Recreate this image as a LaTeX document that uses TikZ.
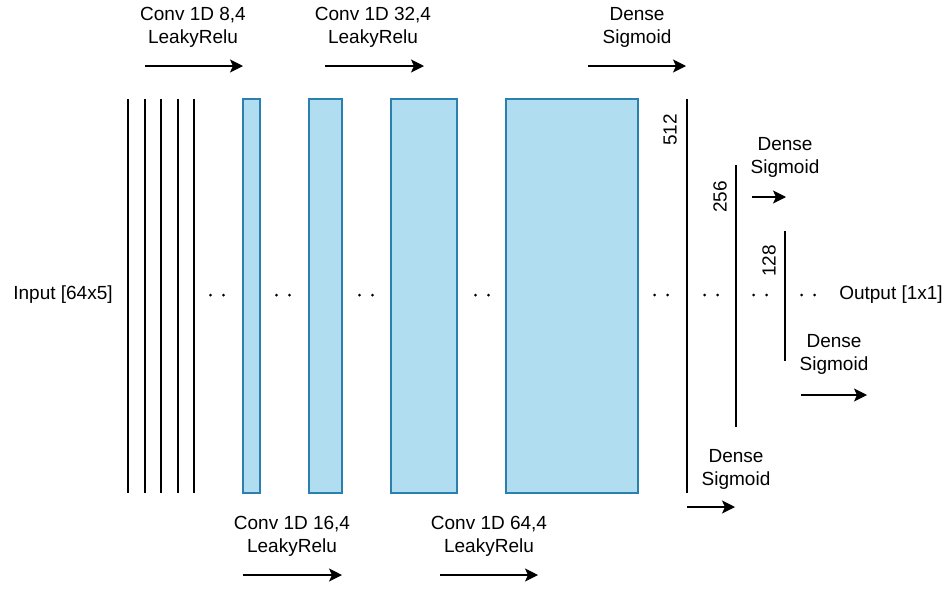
\documentclass[tikz,border=0pt]{standalone}
\usepackage{fontspec}
\setmainfont{Liberation Sans}
\usetikzlibrary{arrows.meta}
\definecolor{boxfill}{HTML}{B1DDF0}
\definecolor{boxline}{HTML}{2A80AE}
\begin{document}
\begin{tikzpicture}[x=1pt,y=-1pt,
  lbl/.style={font=\fontsize{19}{23}\selectfont, align=center, inner sep=0pt},
  layer/.style={draw=boxline, fill=boxfill, line width=1.1pt, inner sep=0pt, minimum height=394pt},
  vline/.style={line width=1.1pt},
  flow/.style={line width=1.2pt, -{Stealth[length=13pt,width=13pt,inset=3pt]}}]
\useasboundingbox (0,0) rectangle (950,590);

% input lines
\foreach \x/\n in {128/a,145/b,161/c,178/d,194/e}{
  \coordinate (in\n t) at (\x,99);
  \coordinate (in\n b) at (\x,493);
  \draw[vline] (in\n t) -- (in\n b);
}

% conv boxes
\node[layer, minimum width=17pt] (c1) at (251.5,296) {};
\node[layer, minimum width=33pt] (c2) at (325.5,296) {};
\node[layer, minimum width=66pt] (c3) at (424,296) {};
\node[layer, minimum width=132pt] (c4) at (572,296) {};

% dense lines
\coordinate (d1t) at (687,99);  \coordinate (d1b) at (687,493);
\coordinate (d2t) at (736,165); \coordinate (d2b) at (736,427);
\coordinate (d3t) at (785,231); \coordinate (d3b) at (785,361);
\draw[vline] (d1t) -- (d1b);
\draw[vline] (d2t) -- (d2b);
\draw[vline] (d3t) -- (d3b);
\node[lbl, rotate=90] (n512) at (670,130) {512};
\node[lbl, rotate=90] (n256) at (720,197) {256};
\node[lbl, rotate=90] (n128) at (769,261) {128};

% dots
\foreach \x in {217,283,366,482,661,711,760,808}{
  \fill (\x-6.5,295) circle (1.5pt);
  \fill (\x+6.5,295) circle (1.5pt);
}

% input / output
\node[lbl] (input) at (63,295) {Input [64x5]};
\node[lbl] (output) at (891,295) {Output [1x1]};

% top labels and arrows
\node[lbl] (t1) at (193,27) {Conv 1D 8,4\\LeakyRelu};
\node[lbl] (t2) at (373,27) {Conv 1D 32,4\\LeakyRelu};
\node[lbl] (t3) at (637,27) {Dense\\Sigmoid};
\coordinate (a1s) at (145,66); \coordinate (a1e) at (243,66);
\coordinate (a2s) at (325,66); \coordinate (a2e) at (424,66);
\coordinate (a3s) at (588,66); \coordinate (a3e) at (686,66);
\draw[flow] (a1s) -- (a1e);
\draw[flow] (a2s) -- (a2e);
\draw[flow] (a3s) -- (a3e);

% bottom labels and arrows
\node[lbl] (b1) at (292,536) {Conv 1D 16,4\\LeakyRelu};
\node[lbl] (b2) at (489,536) {Conv 1D 64,4\\LeakyRelu};
\coordinate (b1s) at (243,575); \coordinate (b1e) at (342,575);
\coordinate (b2s) at (440,575); \coordinate (b2e) at (538,575);
\draw[flow] (b1s) -- (b1e);
\draw[flow] (b2s) -- (b2e);

% dense labels and arrows
\node[lbl] (s1) at (785,157) {Dense\\Sigmoid};
\node[lbl] (s2) at (834,354.5) {Dense\\Sigmoid};
\node[lbl] (s3) at (736,469) {Dense\\Sigmoid};
\coordinate (s1s) at (752,197); \coordinate (s1e) at (786,197);
\coordinate (s2s) at (801,395); \coordinate (s2e) at (867,395);
\coordinate (s3s) at (687,507); \coordinate (s3e) at (735,507);
\draw[flow] (s1s) -- (s1e);
\draw[flow] (s2s) -- (s2e);
\draw[flow] (s3s) -- (s3e);
\end{tikzpicture}
\end{document}
